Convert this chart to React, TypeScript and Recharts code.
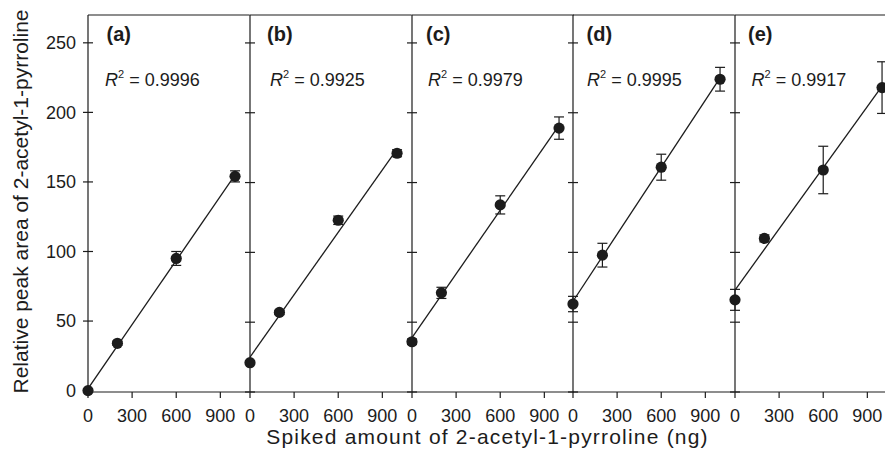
import { ComposedChart, Scatter, Line, XAxis, YAxis, ErrorBar, ReferenceLine } from 'recharts';

// x positions of the spiked standards (ng)
const spikedNg = [0, 200, 600, 1000];
const panelLabels = ['(a)', '(b)', '(c)', '(d)', '(e)'];
const r2Values = ['0.9996', '0.9925', '0.9979', '0.9995', '0.9917'];

// relative peak area, mean and error per panel
const areaA = [0, 34, 95, 154];
const errA = [1, 1.5, 5, 4];
const areaB = [21, 57, 123, 171];
const errB = [1, 1.5, 3, 2.5];
const areaC = [36, 71, 134, 189];
const errC = [2, 4, 6.5, 8];
const areaD = [63, 98, 161, 224];
const errD = [5.5, 8.5, 9.3, 8.5];
const areaE = [66, 110, 159, 218];
const errE = [7.5, 2.5, 17, 18.5];

// fitted line, value at x = 0 and at x = 1000
const fitStart = [1.5, 25, 39, 65, 73];
const fitEnd = [155, 174, 191, 225, 219];

const yTicks = [0, 50, 100, 150, 200, 250];
const xTicks = [0, 300, 600, 900];

const areas = [areaA, areaB, areaC, areaD, areaE];
const errs = [errA, errB, errC, errD, errE];

const FONT = '"Liberation Sans", Arial, Helvetica, sans-serif';
const INK = '#1c1c1c';
const PANEL_LEFT = [88, 249.75, 411.5, 573.25, 735];
const PW = 161.75;
const H = 462;
const labelDx = [18.5, 17, 14, 13.5, 13];
const r2Dx = [17, 20, 16, 14, 16.5];

const YTick = (props: any) => {
  const { y, payload, axisX, showLabel } = props;
  return (
    <g>
      <line x1={axisX - 5} x2={axisX + 5} y1={y} y2={y} stroke={INK} strokeWidth={1.2} />
      {showLabel && (
        <text x={axisX - 12} y={y} dy="0.355em" textAnchor="end" fontSize={18} fill={INK} fontFamily={FONT}>
          {payload.value}
        </text>
      )}
    </g>
  );
};

const Dot = (props: any) => <circle cx={props.cx} cy={props.cy} r={5.6} fill={INK} />;

function Panel({ i }: { i: number }) {
  const yw = i === 0 ? 88 : 20;
  const left = PANEL_LEFT[i] - yw;
  const pts = spikedNg.map((x, j) => ({ x, y: areas[i][j], err: errs[i][j] }));
  const fit = [
    { x: 0, y: fitStart[i] },
    { x: 1000, y: fitEnd[i] },
  ];
  return (
    <div style={{ position: 'absolute', left, top: 0 }}>
      <ComposedChart width={yw + PW + 8} height={H} margin={{ top: 15, right: 8, bottom: 32, left: 0 }}>
        <XAxis
          type="number"
          dataKey="x"
          domain={[0, 1100]}
          ticks={xTicks}
          height={38}
          tickSize={6}
          tickMargin={11}
          axisLine={{ stroke: INK, strokeWidth: 1.2 }}
          tickLine={{ stroke: INK, strokeWidth: 1.2 }}
          tick={{ fontSize: 18, fill: INK, fontFamily: FONT }}
        />
        <YAxis
          type="number"
          dataKey="y"
          domain={[0, 270]}
          ticks={yTicks}
          width={yw}
          tickLine={false}
          axisLine={{ stroke: INK, strokeWidth: 1.2 }}
          tick={<YTick axisX={yw} showLabel={i === 0} />}
        />
        <ReferenceLine y={270} stroke={INK} strokeWidth={1.2} />
        <Line data={fit} dataKey="y" stroke={INK} strokeWidth={1.3} dot={false} isAnimationActive={false} />
        <Scatter data={pts} dataKey="y" shape={Dot} isAnimationActive={false}>
          <ErrorBar dataKey="err" direction="y" width={5} stroke={INK} strokeWidth={1.2} />
        </Scatter>
        <text x={yw + labelDx[i]} y={41} fontSize={20} fontWeight="bold" fill={INK} fontFamily={FONT}>
          {panelLabels[i]}
        </text>
        <text x={yw + r2Dx[i]} y={86} fontSize={18} fill={INK} fontFamily={FONT}>
          <tspan fontStyle="italic">R</tspan>
          <tspan fontSize={11} dy={-8}>2</tspan>
          <tspan dy={8}>{` = ${r2Values[i]}`}</tspan>
        </text>
        {i === 0 && (
          <text
            transform="translate(27.5, 201.5) rotate(-90)"
            textAnchor="middle"
            fontSize={21}
            fill={INK}
            fontFamily={FONT}
          >
            Relative peak area of 2-acetyl-1-pyrroline
          </text>
        )}
      </ComposedChart>
    </div>
  );
}

export default function App() {
  return (
    <div
      style={{
        position: 'fixed',
        left: 0,
        top: 0,
        width: 885,
        height: 462,
        overflow: 'hidden',
        background: '#fff',
      }}
    >
      {panelLabels.map((_, i) => (
        <Panel key={i} i={i} />
      ))}
      <svg width={885} height={462} style={{ position: 'absolute', left: 0, top: 0, pointerEvents: 'none' }}>
        <text
          x={487.5}
          y={444}
          textAnchor="middle"
          fontSize={21}
          letterSpacing={1.2}
          fill={INK}
          fontFamily={FONT}
        >
          Spiked amount of 2-acetyl-1-pyrroline (ng)
        </text>
      </svg>
    </div>
  );
}
